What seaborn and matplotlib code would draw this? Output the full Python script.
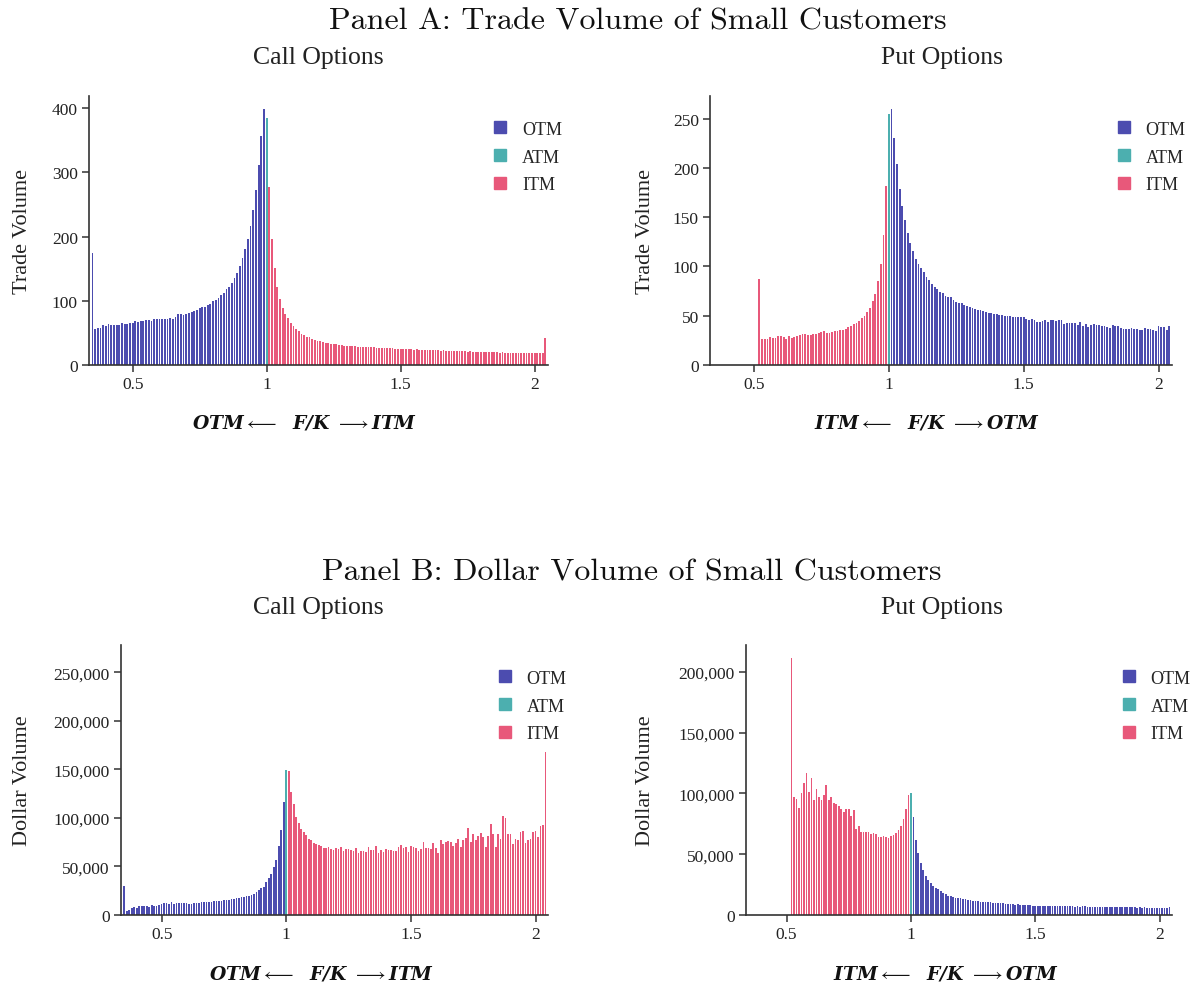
import numpy as np
import pandas as pd
import matplotlib
matplotlib.use("Agg")
import matplotlib.pyplot as plt
import seaborn as sns
from matplotlib.lines import Line2D
from matplotlib.ticker import FuncFormatter

# ---------------- data ----------------
# F/K grid (step 0.01)
call_otm_fk = np.round(np.arange(35, 100) / 100, 2)      # 0.35 .. 0.99
atm_fk = [1.00]
call_itm_fk = np.round(np.arange(101, 205) / 100, 2)     # 1.01 .. 2.04
put_itm_fk = np.round(np.arange(52, 100) / 100, 2)       # 0.52 .. 0.99
put_otm_fk = np.round(np.arange(101, 205) / 100, 2)      # 1.01 .. 2.04

# Panel A, calls: trade volume
tv_call_otm = [175, 56, 57.5, 57.5, 63, 61, 64, 63, 63, 63,
               63, 66, 64, 64, 65, 65, 68, 67, 68, 68,
               70, 70, 69, 71, 71, 71.5, 71.5, 72, 72, 73,
               71, 75, 79, 79, 78, 80, 81, 83, 84, 85.5,
               89, 91, 91, 93, 95, 100, 101, 105, 109, 112,
               118, 121, 127, 135, 144, 154, 166, 180, 196, 217,
               241, 272, 312, 357, 398]
tv_call_atm = [385]
tv_call_itm = [277, 196, 151, 122, 103, 89, 80, 73, 66, 61,
               56, 53, 49, 46, 44, 43, 40, 39, 38, 37,
               36, 35, 34, 33, 32.5, 32, 31, 31, 30, 30,
               29.5, 29, 29, 28.5, 28.5, 28, 28, 27.5, 28, 27.5,
               27, 27, 26.5, 27, 26.5, 26, 26, 25.5, 25.5, 25,
               25, 25.5, 24.5, 24.5, 24, 24.5, 24, 24, 23.5, 23.5,
               23.5, 23, 23.5, 23, 22.5, 23, 22.5, 22.5, 22, 22,
               22, 21.5, 22, 21.5, 21, 21.5, 21, 20.5, 21, 20.5,
               20, 20.5, 20, 19.5, 20, 19.5, 19, 19.5, 19, 19,
               18.5, 19, 18.5, 18.5, 18, 18.5, 18, 18, 18.5, 18,
               19, 18.5, 18.5, 42]

# Panel A, puts: trade volume
tv_put_itm = [87, 26.4, 26.4, 26, 28, 27, 27.5, 29, 29, 28,
              26.4, 29, 27.5, 28, 29, 30, 31, 31, 30.5, 30.5,
              31, 31, 32, 33.5, 35, 32.5, 32.5, 33.5, 34, 34,
              36, 36, 36.6, 39, 40, 41.7, 43, 45, 47.5, 50,
              53.5, 58, 65, 72, 85, 102, 132, 182]
tv_put_atm = [254.6]
tv_put_otm = [260, 230, 204, 179, 161, 147, 134, 124, 116, 108,
              103, 98, 94, 89, 86, 82, 79, 77, 74, 73,
              70, 69, 69, 66, 64, 63, 63, 61, 60, 59,
              58, 57, 56, 56, 55, 54, 53, 53, 52, 51.5,
              51, 51, 50, 50, 49.5, 48.5, 48.5, 48.5, 49, 48.5,
              47, 46, 46.5, 46, 44, 44, 44.5, 46, 44, 46,
              46, 44.5, 46, 46, 42, 42.4, 42.4, 42.4, 42.4, 41,
              43.4, 40, 41.7, 38.3, 40.7, 41.7, 41, 41, 40, 40,
              38.6, 38, 41, 39.7, 39.7, 38, 37, 36.6, 37, 37.3,
              36.6, 37, 36, 36, 37.3, 37, 37, 36, 34.6, 40,
              39, 39, 36, 39.3]

# Panel B, calls: dollar volume (thousands of dollars)
dv_call_otm = [29.7, 4.5, 5.2, 7.6, 8.6, 7.6, 9.7, 9.7, 9, 9,
               8.6, 10, 9.7, 9.7, 10.7, 11.7, 12.4, 12, 11, 13,
               11.4, 12, 12.4, 12.4, 12, 12, 11.7, 11.7, 12, 12.4,
               12.6, 13, 13, 13.4, 13.4, 13.8, 14, 14.3, 14.5, 14.7,
               15, 15.5, 15.8, 16, 16.5, 17.1, 17.5, 18.2, 18.9, 19.2,
               19.9, 20.6, 21.6, 23.3, 25.7, 27.4, 29, 33.6, 37.7, 42,
               49.7, 57, 70.6, 87.8, 116.6]
dv_call_atm = [149]
dv_call_itm = [147.8, 127, 114, 101, 95, 89, 85, 82, 78.6, 77,
               74.5, 72.8, 71.7, 70.7, 69.3, 69.3, 70, 68, 67, 69,
               68, 70, 66, 68, 67.6, 67, 65.5, 69, 64, 65.5,
               65.5, 64.5, 70, 67, 67, 71, 64, 67, 65, 68,
               67, 67, 66, 66, 70, 71.7, 69, 70, 65, 71,
               70.5, 69, 66, 67.5, 75, 69, 69.5, 67.5, 74.5, 69,
               64, 77, 73.4, 75, 76, 75, 71.4, 74.5, 78.6, 70,
               77, 79.7, 90, 75, 83.8, 77, 81, 84.5, 80, 70,
               81, 94, 83, 70, 83.4, 78.6, 102, 100, 83.4, 83.4,
               72.8, 78, 77.6, 85, 87, 74.5, 77, 78.6, 85, 86,
               80, 91.7, 93, 168]

# Panel B, puts: dollar volume (thousands of dollars)
dv_put_itm = [211, 97, 95, 88, 100.5, 108.7, 116.7, 101, 112.8, 94.7,
              103.8, 97, 94.7, 98.3, 106.5, 94.2, 97, 92.3, 91.4, 90,
              87.3, 85.1, 86.8, 86.8, 81.8, 86.5, 70.8, 73, 68.6, 68.6,
              68, 68.6, 66.7, 67.3, 66.7, 64, 64.5, 64.8, 64, 63.2,
              64.8, 65.9, 67.3, 70, 72.8, 79, 86.8, 98.3]
dv_put_atm = [100]
dv_put_otm = [80.4, 61.8, 51, 42.8, 37, 32.4, 29, 26.4, 24.2, 22.2,
              21.4, 19.5, 18.1, 17, 15.9, 15.4, 14.8, 14.3, 14, 13.8,
              13.5, 12.9, 12.4, 12.2, 11.8, 11.6, 11.3, 11.1, 11, 10.8,
              10.4, 10.4, 10.2, 9.9, 9.9, 9.7, 9.6, 9.4, 9.4, 8.8,
              8.8, 8.6, 8.8, 8.5, 8.2, 8.3, 8.0, 8.1, 7.8, 7.7,
              7.8, 7.5, 7.7, 7.4, 7.6, 7.3, 7.5, 7.2, 7.4, 7.4,
              7.2, 7.0, 7.3, 7.1, 7.2, 6.9, 7.1, 6.8, 7.0, 7.1,
              6.8, 6.9, 6.7, 6.9, 6.6, 6.8, 6.6, 6.9, 6.5, 6.9,
              6.6, 6.4, 6.7, 6.3, 6.5, 6.4, 6.2, 6.5, 6.2, 6.3,
              6.1, 6.3, 6.0, 6.2, 5.9, 6.1, 5.8, 6.0, 5.9, 6.0,
              5.8, 6.1, 5.9, 6.4]

categories = ["OTM", "ATM", "ITM"]
colors = {"OTM": "#4C4CAF", "ATM": "#4CAFAF", "ITM": "#E8587A"}
xticks = [0.5, 1, 1.5, 2]
xticklabels = ["0.5", "1", "1.5", "2"]


def frame(otm_fk, otm, atm, itm_fk, itm, scale=1.0):
    parts = []
    for fk, v, c in ((otm_fk, otm, "OTM"), (atm_fk, atm, "ATM"), (itm_fk, itm, "ITM")):
        assert len(fk) == len(v), (c, len(fk), len(v))
        parts.append(pd.DataFrame({"fk": fk, "vol": np.asarray(v, float) * scale, "type": c}))
    return pd.concat(parts, ignore_index=True)


df_a_call = frame(call_otm_fk, tv_call_otm, tv_call_atm, call_itm_fk, tv_call_itm)
df_a_put = frame(put_otm_fk, tv_put_otm, tv_put_atm, put_itm_fk, tv_put_itm)
df_b_call = frame(call_otm_fk, dv_call_otm, dv_call_atm, call_itm_fk, dv_call_itm, 1000)
df_b_put = frame(put_otm_fk, dv_put_otm, dv_put_atm, put_itm_fk, dv_put_itm, 1000)

# ---------------- style ----------------
sns.set_theme(style="ticks")
plt.rcParams["font.family"] = ["Liberation Serif", "DejaVu Serif"]
plt.rcParams["mathtext.fontset"] = "cm"

W, H = 1195, 987
fig = plt.figure(figsize=(W / 100, H / 100), dpi=100)


def px_axes(left, right, top, bottom):
    return fig.add_axes([left / W, 1 - bottom / H, (right - left) / W, (bottom - top) / H])


panels = [
    (df_a_call, px_axes(89, 548, 97, 366), (0, 419), "Trade Volume",
     r"OTM$\longleftarrow$  F/K $\longrightarrow$ITM", False, (-0.124, -0.178)),
    (df_a_put, px_axes(710, 1172, 97, 366), (0, 273), "Trade Volume",
     r"ITM$\longleftarrow$  F/K $\longrightarrow$OTM", False, (-0.119, -0.178)),
    (df_b_call, px_axes(121, 548, 646, 916), (0, 278000), "Dollar Volume",
     r"OTM$\longleftarrow$  F/K $\longrightarrow$ITM", True, (-0.208, -0.178)),
    (df_b_put, px_axes(746, 1172, 646, 916), (0, 222000), "Dollar Volume",
     r"ITM$\longleftarrow$  F/K $\longrightarrow$OTM", True, (-0.214, -0.178)),
]

for df, ax, ylim, ylab, xlab, comma, (ylx, xly) in panels:
    sns.barplot(data=df, x="fk", y="vol", hue="type", hue_order=categories,
                palette=colors, native_scale=True, dodge=False, width=0.68,
                errorbar=None, linewidth=0, saturation=1, legend=False, ax=ax)
    ax.set_xlim(0.337, 2.05)
    ax.set_ylim(*ylim)
    ax.set_xticks(xticks)
    ax.set_xticklabels(xticklabels)
    if comma:
        ax.yaxis.set_major_formatter(FuncFormatter(lambda v, p: f"{int(v):,}"))
    sns.despine(ax=ax)
    for s in ("left", "bottom"):
        ax.spines[s].set_color("#333333")
        ax.spines[s].set_linewidth(1.2)
    ax.tick_params(axis="both", direction="out", length=5, width=1.1,
                   color="#333333", labelsize=12.5, labelcolor="#222222", pad=3)
    ax.set_ylabel(ylab, fontsize=16, color="#222222")
    ax.set_xlabel(xlab, fontsize=13.5, family=["DejaVu Serif"], fontweight="bold",
                  fontstyle="italic", color="#111111")
    ax.yaxis.set_label_coords(ylx, 0.5)
    ax.xaxis.set_label_coords(0.47, xly)
    handles = [Line2D([0], [0], marker="s", linestyle="", markersize=9,
                      markerfacecolor=colors[c], markeredgecolor=colors[c]) for c in categories]
    ax.legend(handles, categories, loc="upper left", bbox_to_anchor=(0.865, 0.935),
              frameon=False, fontsize=13, handlelength=0.8, handletextpad=0.8,
              labelspacing=0.6, borderaxespad=0)

# titles
fig.text(638 / W, 1 - 22 / H, "Panel A: Trade Volume of Small Customers", ha="center", va="center",
         fontsize=23, family=["cmr10", "DejaVu Serif"], color="#111111")
fig.text(632 / W, 1 - 573 / H, "Panel B: Dollar Volume of Small Customers", ha="center", va="center",
         fontsize=23, family=["cmr10", "DejaVu Serif"], color="#111111")
for x, y, t in ((318, 58, "Call Options"), (942, 58, "Put Options"),
                (318, 608, "Call Options"), (942, 608, "Put Options")):
    fig.text(x / W, 1 - y / H, t, ha="center", va="center", fontsize=18.5, color="#222222")

fig.savefig("out.png", dpi=100)
